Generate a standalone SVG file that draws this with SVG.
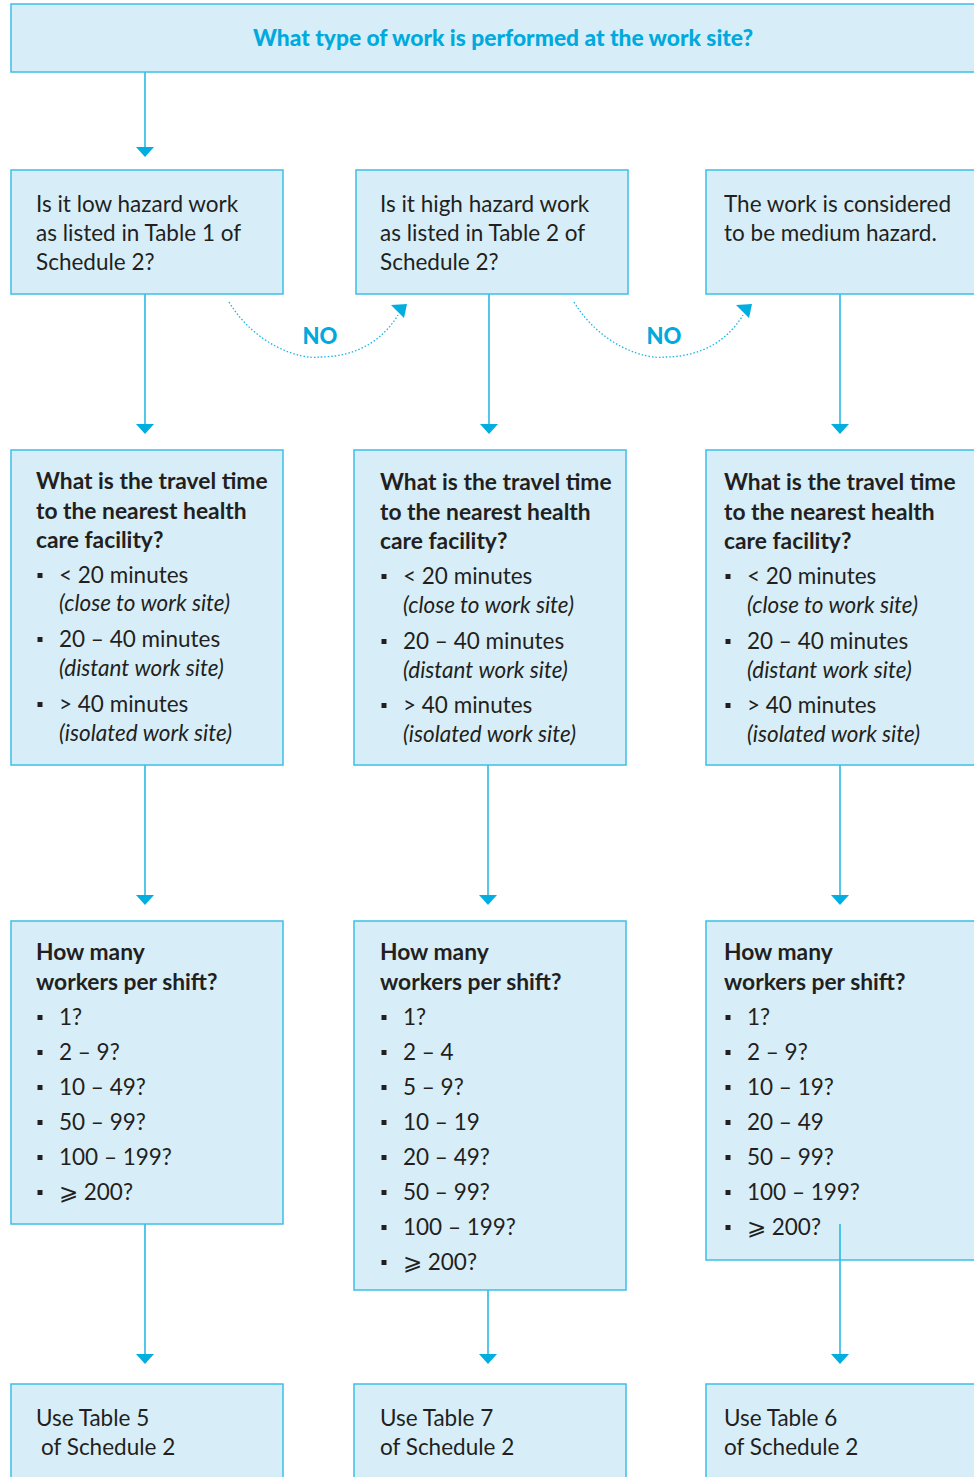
<svg xmlns="http://www.w3.org/2000/svg" width="974" height="1477" viewBox="0 0 974 1477">
<style>
.box{fill:#d7eef8;stroke:#3dbfe8;stroke-width:1.5}
.t{font-family:Lato,"Open Sans","Liberation Sans",sans-serif;font-size:22.5px;fill:#231f20;font-weight:400}
.b{font-weight:700;font-size:22.8px}
.i{font-style:italic}
.title{font-family:Lato,"Open Sans","Liberation Sans",sans-serif;font-size:22px;font-weight:900;fill:#00a9de}
.no{font-family:Lato,"Open Sans","Liberation Sans",sans-serif;font-size:22px;font-weight:900;fill:#00a9de}
.ln{stroke:#1ab4e2;stroke-width:1.5;fill:none}
.dot{stroke:#1ab4e2;stroke-width:1.3;fill:none;stroke-dasharray:1.5 2}
.bu{fill:#231f20}
</style>
<rect width="974" height="1477" fill="#ffffff"/>

<g id="connectors">
<line class="ln" x1="145" y1="72" x2="145" y2="147"/>
<path d="M136,147 L154,147 L145,157 Z" fill="#00aee0"/>
<line class="ln" x1="145" y1="294" x2="145" y2="424"/>
<path d="M136,424 L154,424 L145,434 Z" fill="#00aee0"/>
<line class="ln" x1="489" y1="294" x2="489" y2="424"/>
<path d="M480,424 L498,424 L489,434 Z" fill="#00aee0"/>
<line class="ln" x1="840" y1="294" x2="840" y2="424"/>
<path d="M831,424 L849,424 L840,434 Z" fill="#00aee0"/>
<line class="ln" x1="145" y1="765" x2="145" y2="895"/>
<path d="M136,895 L154,895 L145,905 Z" fill="#00aee0"/>
<line class="ln" x1="488" y1="765" x2="488" y2="895"/>
<path d="M479,895 L497,895 L488,905 Z" fill="#00aee0"/>
<line class="ln" x1="840" y1="765" x2="840" y2="895"/>
<path d="M831,895 L849,895 L840,905 Z" fill="#00aee0"/>
<line class="ln" x1="145" y1="1224" x2="145" y2="1354"/>
<path d="M136,1354 L154,1354 L145,1364 Z" fill="#00aee0"/>
<line class="ln" x1="488" y1="1290" x2="488" y2="1354"/>
<path d="M479,1354 L497,1354 L488,1364 Z" fill="#00aee0"/>
<line class="ln" x1="840" y1="1224" x2="840" y2="1354"/>
<path d="M831,1354 L849,1354 L840,1364 Z" fill="#00aee0"/>
<path class="dot" d="M229,302 C255,345 300,360 320,357 C350,357 380,345 398,315"/>
<path d="M391,305 L407,304 L404,318 Z" fill="#00aee0"/>
<path class="dot" d="M574,302 C600,345 645,360 665,357 C695,357 725,345 743,315"/>
<path d="M736,305 L752,304 L749,318 Z" fill="#00aee0"/>
<text class="no" x="320" y="344" text-anchor="middle">NO</text>
<text class="no" x="664" y="344" text-anchor="middle">NO</text>
</g>

<g id="top">
<rect class="box" x="11" y="4" width="970" height="68"/>
<text class="title" x="503" y="46" text-anchor="middle" textLength="500" lengthAdjust="spacingAndGlyphs">What type of work is performed at the work site?</text>
</g>

<g id="q-low">
<rect class="box" x="11" y="170" width="272" height="124"/>
<text class="t" x="36" y="212">Is it low hazard work</text>
<text class="t" x="36" y="241">as listed in Table 1 of</text>
<text class="t" x="36" y="270">Schedule 2?</text>
</g>
<g id="q-high">
<rect class="box" x="356" y="170" width="272" height="124"/>
<text class="t" x="380" y="212">Is it high hazard work</text>
<text class="t" x="380" y="241">as listed in Table 2 of</text>
<text class="t" x="380" y="270">Schedule 2?</text>
</g>
<g id="q-medium">
<rect class="box" x="706" y="170" width="275" height="124"/>
<text class="t" x="724" y="212">The work is considered</text>
<text class="t" x="724" y="241">to be medium hazard.</text>
</g>

<g id="travel-low">
<rect class="box" x="11" y="450" width="272" height="315"/>
<text class="t b" x="36" y="489">What is the travel time</text>
<text class="t b" x="36" y="519">to the nearest health</text>
<text class="t b" x="36" y="548">care facility?</text>
<rect class="bu" x="37.5" y="573" width="5" height="5"/><text class="t" x="59" y="583">&lt; 20 minutes</text>
<text class="t i" x="59" y="611">(close to work site)</text>
<rect class="bu" x="37.5" y="637" width="5" height="5"/><text class="t" x="59" y="647">20 – 40 minutes</text>
<text class="t i" x="59" y="676">(distant work site)</text>
<rect class="bu" x="37.5" y="702" width="5" height="5"/><text class="t" x="59" y="712">&gt; 40 minutes</text>
<text class="t i" x="59" y="741">(isolated work site)</text>
</g>
<g id="travel-high">
<rect class="box" x="354" y="450" width="272" height="315"/>
<text class="t b" x="380" y="490">What is the travel time</text>
<text class="t b" x="380" y="520">to the nearest health</text>
<text class="t b" x="380" y="549">care facility?</text>
<rect class="bu" x="381.5" y="574" width="5" height="5"/><text class="t" x="403" y="584">&lt; 20 minutes</text>
<text class="t i" x="403" y="613">(close to work site)</text>
<rect class="bu" x="381.5" y="639" width="5" height="5"/><text class="t" x="403" y="649">20 – 40 minutes</text>
<text class="t i" x="403" y="678">(distant work site)</text>
<rect class="bu" x="381.5" y="703" width="5" height="5"/><text class="t" x="403" y="713">&gt; 40 minutes</text>
<text class="t i" x="403" y="742">(isolated work site)</text>
</g>
<g id="travel-medium">
<rect class="box" x="706" y="450" width="275" height="315"/>
<text class="t b" x="724" y="490">What is the travel time</text>
<text class="t b" x="724" y="520">to the nearest health</text>
<text class="t b" x="724" y="549">care facility?</text>
<rect class="bu" x="725.5" y="574" width="5" height="5"/><text class="t" x="747" y="584">&lt; 20 minutes</text>
<text class="t i" x="747" y="613">(close to work site)</text>
<rect class="bu" x="725.5" y="639" width="5" height="5"/><text class="t" x="747" y="649">20 – 40 minutes</text>
<text class="t i" x="747" y="678">(distant work site)</text>
<rect class="bu" x="725.5" y="703" width="5" height="5"/><text class="t" x="747" y="713">&gt; 40 minutes</text>
<text class="t i" x="747" y="742">(isolated work site)</text>
</g>

<g id="workers-low">
<rect class="box" x="11" y="921" width="272" height="303"/>
<text class="t b" x="36" y="960">How many</text>
<text class="t b" x="36" y="990">workers per shift?</text>
<rect class="bu" x="37.5" y="1015" width="5" height="5"/><text class="t" x="59" y="1025">1?</text>
<rect class="bu" x="37.5" y="1050" width="5" height="5"/><text class="t" x="59" y="1060">2 – 9?</text>
<rect class="bu" x="37.5" y="1085" width="5" height="5"/><text class="t" x="59" y="1095">10 – 49?</text>
<rect class="bu" x="37.5" y="1120" width="5" height="5"/><text class="t" x="59" y="1130">50 – 99?</text>
<rect class="bu" x="37.5" y="1155" width="5" height="5"/><text class="t" x="59" y="1165">100 – 199?</text>
<rect class="bu" x="37.5" y="1190" width="5" height="5"/><text class="t" x="59" y="1200">⩾ 200?</text>
</g>
<g id="workers-high">
<rect class="box" x="354" y="921" width="272" height="369"/>
<text class="t b" x="380" y="960">How many</text>
<text class="t b" x="380" y="990">workers per shift?</text>
<rect class="bu" x="381.5" y="1015" width="5" height="5"/><text class="t" x="403" y="1025">1?</text>
<rect class="bu" x="381.5" y="1050" width="5" height="5"/><text class="t" x="403" y="1060">2 – 4</text>
<rect class="bu" x="381.5" y="1085" width="5" height="5"/><text class="t" x="403" y="1095">5 – 9?</text>
<rect class="bu" x="381.5" y="1120" width="5" height="5"/><text class="t" x="403" y="1130">10 – 19</text>
<rect class="bu" x="381.5" y="1155" width="5" height="5"/><text class="t" x="403" y="1165">20 – 49?</text>
<rect class="bu" x="381.5" y="1190" width="5" height="5"/><text class="t" x="403" y="1200">50 – 99?</text>
<rect class="bu" x="381.5" y="1225" width="5" height="5"/><text class="t" x="403" y="1235">100 – 199?</text>
<rect class="bu" x="381.5" y="1260" width="5" height="5"/><text class="t" x="403" y="1270">⩾ 200?</text>
</g>
<g id="workers-medium">
<rect class="box" x="706" y="921" width="275" height="339"/>
<text class="t b" x="724" y="960">How many</text>
<text class="t b" x="724" y="990">workers per shift?</text>
<rect class="bu" x="725.5" y="1015" width="5" height="5"/><text class="t" x="747" y="1025">1?</text>
<rect class="bu" x="725.5" y="1050" width="5" height="5"/><text class="t" x="747" y="1060">2 – 9?</text>
<rect class="bu" x="725.5" y="1085" width="5" height="5"/><text class="t" x="747" y="1095">10 – 19?</text>
<rect class="bu" x="725.5" y="1120" width="5" height="5"/><text class="t" x="747" y="1130">20 – 49</text>
<rect class="bu" x="725.5" y="1155" width="5" height="5"/><text class="t" x="747" y="1165">50 – 99?</text>
<rect class="bu" x="725.5" y="1190" width="5" height="5"/><text class="t" x="747" y="1200">100 – 199?</text>
<rect class="bu" x="725.5" y="1225" width="5" height="5"/><text class="t" x="747" y="1235">⩾ 200?</text>
</g>

<g id="use-5">
<rect class="box" x="11" y="1384" width="272" height="100"/>
<text class="t" x="36" y="1426">Use Table 5</text>
<text class="t" x="41" y="1455">of Schedule 2</text>
</g>
<g id="use-7">
<rect class="box" x="354" y="1384" width="272" height="100"/>
<text class="t" x="380" y="1426">Use Table 7</text>
<text class="t" x="380" y="1455">of Schedule 2</text>
</g>
<g id="use-6">
<rect class="box" x="706" y="1384" width="275" height="100"/>
<text class="t" x="724" y="1426">Use Table 6</text>
<text class="t" x="724" y="1455">of Schedule 2</text>
</g>
<line class="ln" x1="840" y1="1224" x2="840" y2="1260"/>
</svg>
